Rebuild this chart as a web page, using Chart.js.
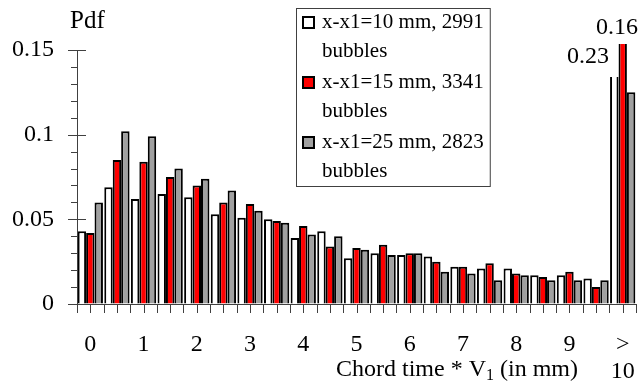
<!DOCTYPE html>
<html lang="en">
<head>
<meta charset="UTF-8">
<title>Chord time pdf</title>
<script src="https://cdn.jsdelivr.net/npm/chart.js"></script>
<style>
  html, body { margin: 0; padding: 0; background: #fff; }
</style>
</head>
<body>
<canvas id="pdfChart" width="640" height="392"></canvas>
<script>
// chord time * V1 classes (mm), the last one collects everything above 10
var bins = ['0', '0.5', '1', '1.5', '2', '2.5', '3', '3.5', '4', '4.5', '5', '5.5',
            '6', '6.5', '7', '7.5', '8', '8.5', '9', '9.5', '>10'];
var tickLabels = ['0', '', '1', '', '2', '', '3', '', '4', '', '5', '', '6', '', '7', '', '8', '', '9', '', ['>', '10']];
var seriesNames = [
    ['x-x1=10 mm, 2991', 'bubbles'],
    ['x-x1=15 mm, 3341', 'bubbles'],
    ['x-x1=25 mm, 2823', 'bubbles']
];
var pdf10mm = [0.043, 0.069, 0.062, 0.065, 0.063, 0.053, 0.051, 0.050, 0.039, 0.043, 0.027,
               0.030, 0.029, 0.028, 0.022, 0.021, 0.021, 0.017, 0.017, 0.015, 0.23];
var pdf15mm = [0.042, 0.085, 0.084, 0.075, 0.070, 0.060, 0.059, 0.049, 0.046, 0.034, 0.033,
               0.035, 0.030, 0.025, 0.022, 0.024, 0.018, 0.016, 0.019, 0.010, 0.16];
var pdf25mm = [0.060, 0.102, 0.099, 0.080, 0.074, 0.067, 0.055, 0.048, 0.041, 0.040, 0.032,
               0.029, 0.030, 0.019, 0.018, 0.014, 0.017, 0.014, 0.014, 0.014, 0.125];
var yMax = 0.15;
var yStep = 0.01;

var serif = "'Liberation Serif', 'Times New Roman', serif";
var fills = ['#ffffff', '#ff0000', '#a0a0a0'];
var axisColor = '#404040';

Chart.defaults.font.family = serif;
Chart.defaults.color = '#000';

// axes, ticks, broken-bar labels and the boxed legend
var extras = {
    id: 'extras',
    afterDraw: function (chart) {
        var ctx = chart.ctx, a = chart.chartArea;
        var xs = chart.scales.x, ys = chart.scales.y;
        ctx.save();

        // bars taller than the axis: cut the first one and print values
        chart.data.datasets.forEach(function (ds, i) {
            var v = ds.data[ds.data.length - 1];
            if (v <= yMax) return;
            var bar = chart.getDatasetMeta(i).data[ds.data.length - 1];
            ctx.font = '24px ' + serif;
            ctx.fillStyle = '#000';
            ctx.textBaseline = 'middle';
            if (i === 0) {
                ctx.fillStyle = '#fff';
                ctx.fillRect(bar.x - bar.width / 2 - 45, a.top - 10, bar.width + 45, 37);
                ctx.fillStyle = '#000';
                ctx.textAlign = 'right';
                ctx.fillText(String(v), bar.x - bar.width / 2 - 1, a.top + 7);
            } else {
                ctx.textAlign = 'right';
                ctx.fillText(String(v), chart.width - 2, a.top - 22);
            }
        });

        ctx.strokeStyle = axisColor;
        ctx.lineWidth = 1;
        ctx.beginPath();
        ctx.moveTo(a.left + 0.5, a.top);
        ctx.lineTo(a.left + 0.5, a.bottom);
        ctx.moveTo(a.left, a.bottom + 0.5);
        ctx.lineTo(a.right, a.bottom + 0.5);
        // y ticks, the labelled ones cross the axis
        for (var k = 0; k * yStep <= yMax + 1e-9; k++) {
            var py = Math.round(ys.getPixelForValue(k * yStep)) + 0.5;
            var major = k % 5 === 0;
            ctx.moveTo(a.left - (major ? 9 : 6), py);
            ctx.lineTo(a.left + (major ? 9 : 0), py);
        }
        // x ticks at every bin edge and bin centre
        var half = (xs.getPixelForValue(1) - xs.getPixelForValue(0)) / 2;
        for (var i = 0; i < bins.length; i++) {
            var c = xs.getPixelForValue(i);
            [c - half, c, c + half].forEach(function (px) {
                px = Math.round(px) + 0.5;
                ctx.moveTo(px, a.bottom);
                ctx.lineTo(px, a.bottom + 9);
            });
        }
        ctx.stroke();

        // axis titles
        ctx.fillStyle = '#000';
        ctx.textBaseline = 'middle';
        ctx.textAlign = 'left';
        ctx.font = '25px ' + serif;
        ctx.fillText('Pdf', 70, 21);

        ctx.font = '24px ' + serif;
        var p1 = 'Chord time * V', p3 = ' (in mm)';
        var w1 = ctx.measureText(p1).width, w3 = ctx.measureText(p3).width;
        ctx.font = '16px ' + serif;
        var w2 = ctx.measureText('1').width;
        var x0 = 578 - w1 - w2 - w3, ty = 370;
        ctx.font = '24px ' + serif;
        ctx.fillText(p1, x0, ty);
        ctx.fillText(p3, x0 + w1 + w2, ty);
        ctx.font = '16px ' + serif;
        ctx.fillText('1', x0 + w1, ty + 6);

        // legend
        ctx.font = '21px ' + serif;
        var lx = 296, ly = 8, tx = 322, wMax = 0;
        seriesNames.forEach(function (lines) {
            lines.forEach(function (s) { wMax = Math.max(wMax, ctx.measureText(s).width); });
        });
        ctx.fillStyle = '#fff';
        ctx.fillRect(lx, ly, tx + wMax + 6 - lx, 178);
        ctx.strokeStyle = axisColor;
        ctx.lineWidth = 1;
        ctx.strokeRect(lx + 0.5, ly + 0.5, tx + wMax + 6 - lx, 178);
        seriesNames.forEach(function (lines, e) {
            var cy = 22 + e * 60;
            ctx.fillStyle = fills[e];
            ctx.fillRect(303, cy - 5, 11, 11);
            ctx.strokeStyle = '#000';
            ctx.lineWidth = 2;
            ctx.strokeRect(303, cy - 5, 11, 11);
            ctx.fillStyle = '#000';
            lines.forEach(function (s, j) {
                ctx.fillText(s, tx, cy + j * 29);
            });
        });
        ctx.restore();
    }
};

var ctx = document.getElementById('pdfChart').getContext('2d');
var pdfChart = new Chart(ctx, {
    type: 'bar',
    data: {
        labels: bins,
        datasets: [pdf10mm, pdf15mm, pdf25mm].map(function (d, i) {
            return {
                label: seriesNames[i].join(' '),
                data: d,
                backgroundColor: fills[i],
                borderColor: '#000',
                borderWidth: 2,
                categoryPercentage: 0.95,
                barPercentage: 1.0,
                clip: { left: 0, right: 0, top: 6, bottom: 0 }
            };
        })
    },
    options: {
        responsive: false,
        animation: false,
        layout: { padding: { top: 50, right: 4, left: 0, bottom: 0 } },
        plugins: {
            legend: { display: false },
            tooltip: { enabled: false }
        },
        scales: {
            x: {
                // invisible tick marks only push the labels down
                grid: { display: true, drawOnChartArea: false, tickLength: 28, tickColor: 'rgba(0,0,0,0)' },
                border: { display: false },
                ticks: {
                    autoSkip: false,
                    maxRotation: 0,
                    padding: 0,
                    font: { size: 24, lineHeight: 1.1 },
                    callback: function (v, i) { return tickLabels[i]; }
                },
                afterFit: function (s) { s.height = 88; }
            },
            y: {
                min: 0,
                max: yMax,
                grid: { display: true, drawOnChartArea: false, tickLength: 23, tickColor: 'rgba(0,0,0,0)' },
                border: { display: false },
                ticks: {
                    stepSize: yStep,
                    autoSkip: false,
                    padding: 0,
                    font: { size: 24 },
                    callback: function (v) {
                        var k = Math.round(v / yStep);
                        return k % 5 === 0 ? String(+v.toFixed(2)) : '';
                    }
                },
                afterFit: function (s) { s.width = 77; }
            }
        }
    },
    plugins: [extras]
});
</script>
</body>
</html>
